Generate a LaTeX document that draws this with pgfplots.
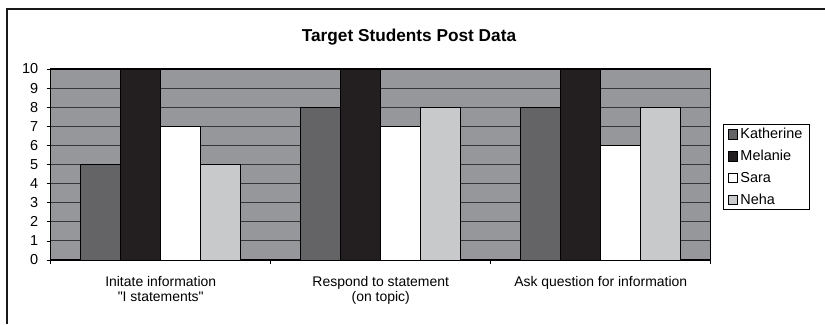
\documentclass[border=0pt]{standalone}
\usepackage{pgfplots}
\pgfplotsset{compat=1.18}
\usepackage{fontspec}
\setmainfont{Liberation Sans}[Ligatures=TeXOff]
\definecolor{bg}{RGB}{150,151,154}
\definecolor{kath}{RGB}{100,100,102}
\definecolor{mel}{RGB}{35,31,32}
\definecolor{neha}{RGB}{200,201,203}
\definecolor{gridc}{RGB}{55,55,55}
\begin{document}
\begin{tikzpicture}[x=1bp,y=1bp]
\path[use as bounding box] (0,0) rectangle (825,324);
\draw[line width=2bp, black!90] (7,0) -- (7,315) -- (825,315);
\node[font=\bfseries\fontsize{17.3}{19}\selectfont] at (409,287) {Target Students Post Data};
\begin{axis}[
  at={(50.7bp,64bp)}, anchor=south west,
  width=660bp, height=191bp, scale only axis,
  ybar, bar width=40bp, ybar=0pt,
  xmin=-0.5, xmax=2.5, ymin=0, ymax=10,
  ytick={0,1,...,10},
  xtick={0,1,2},
  xticklabels={{Initate information\\"I statements"},{Respond to statement\\(on topic)},{Ask question for information}},
  xticklabel style={align=center, font=\fontsize{14}{14.5}\selectfont, yshift=-9bp},
  major x tick style={draw=none},
  minor xtick={-0.5,0.5,1.5,2.5},
  xtick pos=bottom, ytick pos=left,
  tick align=outside,
  major tick length=4bp, minor tick length=4bp,
  ymajorgrids,
  grid style={gridc, line width=1.1bp},
  axis background/.style={fill=bg},
  axis line style={black, line width=1.2bp},
  tick style={black, line width=0.8bp},
  yticklabel style={font=\fontsize{14.5}{14}\selectfont, xshift=-5bp},
  /pgf/number format/assume math mode=true,
  legend style={at={(1.018,0.712)}, anchor=north west, draw=black, line width=0.8bp,
    font=\fontsize{14.5}{15}\selectfont, row sep=6bp, inner xsep=5bp, inner ysep=2bp},
  legend cell align=left,
  legend image code/.code={\draw[#1, draw=black, line width=1bp] (0bp,-4.8bp) rectangle (9.5bp,4.8bp);},
]
\addplot[fill=kath, draw=black, line width=0.8bp] coordinates {(0,5) (1,8) (2,8)};
\addplot[fill=mel, draw=black, line width=0.8bp] coordinates {(0,10) (1,10) (2,10)};
\addplot[fill=white, draw=black, line width=0.8bp] coordinates {(0,7) (1,7) (2,6)};
\addplot[fill=neha, draw=black, line width=0.8bp] coordinates {(0,5) (1,8) (2,8)};
\legend{Katherine,Melanie,Sara,Neha}
\end{axis}
\end{tikzpicture}
\end{document}
